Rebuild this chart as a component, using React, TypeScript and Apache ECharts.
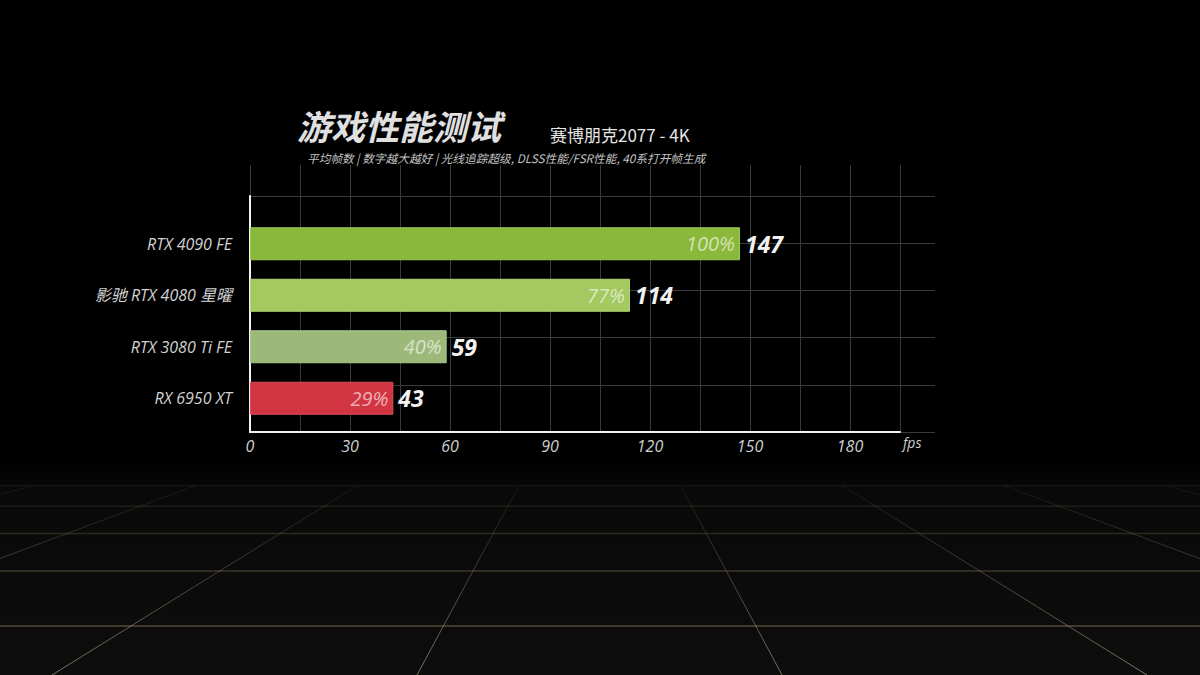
import React, { useEffect, useRef } from 'react';
import * as echarts from 'echarts';

// ---- data ----
const categories = ['RTX 4090 FE', '影驰 RTX 4080 星曜', 'RTX 3080 Ti FE', 'RX 6950 XT'];
const fpsValues = [147, 114, 59, 43];
const percentValues = [100, 77, 40, 29];
const xMax = 195;
const titleText = '游戏性能测试';
const gameText = '赛博朋克2077 - 4K';
const noteText = '平均帧数 | 数字越大越好 | 光线追踪超级, DLSS性能/FSR性能, 40系打开帧生成';

// ---- styles ----
const barColors = ['#89b83b', '#a3c960', '#9cb97a', '#d13542'];
const barBorders = ['#9cc853', '#b3d574', '#aac78b', '#dc4f5a'];
const LATIN = '"Open Sans", "Noto Sans", "Noto Sans CJK SC", sans-serif';
const CJK = '"Noto Sans CJK SC", "Noto Sans", sans-serif';
const GRID_LINE = '#3a3a3a';

function buildFloor(): any[] {
  const vpX = 600;
  const vpY = 335;
  const bottom = 675;
  const els: any[] = [];
  els.push({
    type: 'rect',
    z: -10,
    silent: true,
    shape: { x: 0, y: 460, width: 1200, height: 215 },
    style: {
      fill: {
        type: 'linear', x: 0, y: 0, x2: 0, y2: 1,
        colorStops: [
          { offset: 0, color: 'rgba(10,10,10,0)' },
          { offset: 0.15, color: 'rgba(9,9,9,1)' },
          { offset: 1, color: '#0d0d0d' },
        ],
      },
    },
  });
  // horizontal floor lines in perspective
  const alphas = [0.45, 0.32, 0.22, 0.15, 0.1];
  let topY = 0;
  for (let k = 0; k < alphas.length; k++) {
    const y = 1 / (1 / 291 + 0.0008 * k) + vpY;
    topY = y;
    els.push({
      type: 'line',
      z: -9,
      silent: true,
      shape: { x1: 0, y1: y, x2: 1200, y2: y },
      style: { stroke: `rgba(170,150,105,${alphas[k]})`, lineWidth: 1.5 },
    });
  }
  // converging lines
  for (let k = -4; k <= 5; k++) {
    const xb = 52 + 365 * k;
    const xAt = (y: number) => vpX + (xb - vpX) * (y - vpY) / (bottom - vpY);
    els.push({
      type: 'line',
      z: -9,
      silent: true,
      shape: { x1: xAt(topY), y1: topY, x2: xAt(bottom), y2: bottom },
      style: {
        lineWidth: 1,
        stroke: {
          type: 'linear', x: 0, y: topY, x2: 0, y2: bottom, global: true,
          colorStops: [
            { offset: 0, color: 'rgba(180,160,120,0.08)' },
            { offset: 1, color: 'rgba(195,175,135,0.62)' },
          ],
        },
      },
    });
  }
  return els;
}

export default function App() {
  const ref = useRef<HTMLDivElement>(null);

  useEffect(() => {
    document.body.style.margin = '0';
    document.body.style.background = '#000';
    if (!ref.current) return;
    const chart = echarts.init(ref.current, null, { renderer: 'svg' });

    const option: any = {
      animation: false,
      backgroundColor: '#000',
      graphic: [
        ...buildFloor(),
        {
          type: 'text',
          x: 297,
          y: 125,
          style: {
            text: titleText,
            fill: '#e0e0e0',
            font: `italic bold 34px ${CJK}`,
            textVerticalAlign: 'middle',
          },
        },
        {
          type: 'text',
          x: 550,
          y: 134,
          style: {
            text: gameText,
            fill: '#e6e6e6',
            font: `normal 17px ${CJK}`,
            textVerticalAlign: 'middle',
          },
        },
        {
          type: 'text',
          x: 307,
          y: 157,
          style: {
            text: noteText,
            fill: '#c2c2c2',
            font: `italic 11.7px ${CJK}`,
            textVerticalAlign: 'middle',
          },
        },
      ],
      grid: [
        { left: 250, top: 218, width: 650, height: 206 }, // bars
        { left: 250, top: 165, width: 650, height: 267 }, // vertical split lines
        { left: 250, top: 196, width: 685, height: 236 }, // horizontal split lines
        { left: 250, top: 196, width: 650, height: 236 }, // white axes + labels
      ],
      xAxis: [
        { gridIndex: 0, type: 'value', min: 0, max: xMax, show: false },
        {
          gridIndex: 1, type: 'value', min: 0, max: xMax, interval: 15, z: 0,
          axisLine: { show: false }, axisTick: { show: false }, axisLabel: { show: false },
          splitLine: { show: true, lineStyle: { color: GRID_LINE, width: 1 } },
        },
        { gridIndex: 2, type: 'value', min: 0, max: 1, show: false },
        {
          gridIndex: 3, type: 'value', min: 0, max: xMax, interval: 30, z: 1,
          axisLine: { show: true, lineStyle: { color: '#f2f2f2', width: 2 } },
          axisTick: { show: false },
          splitLine: { show: false },
          axisLabel: {
            showMaxLabel: false,
            color: '#cfcfcf',
            fontSize: 16,
            fontStyle: 'italic',
            fontFamily: LATIN,
            margin: 6,
          },
          name: 'fps',
          nameLocation: 'end',
          nameGap: 3,
          nameTextStyle: {
            color: '#cfcfcf', fontSize: 14, fontStyle: 'italic', fontFamily: LATIN,
            verticalAlign: 'top', padding: [4, 0, 0, 0],
          },
        },
      ],
      yAxis: [
        {
          gridIndex: 0, type: 'category', data: categories, inverse: true,
          axisLine: { show: false }, axisTick: { show: false }, splitLine: { show: false },
          axisLabel: {
            color: '#d2d2d2', fontSize: 16, fontStyle: 'italic', fontFamily: LATIN, margin: 18,
          },
        },
        { gridIndex: 1, type: 'value', min: 0, max: 1, show: false },
        {
          gridIndex: 2, type: 'value', min: 0, max: 5, interval: 1, z: 0,
          axisLine: { show: false }, axisTick: { show: false }, axisLabel: { show: false },
          splitLine: { show: true, lineStyle: { color: GRID_LINE, width: 1 } },
        },
        {
          gridIndex: 3, type: 'value', min: 0, max: 1, z: 1, offset: 1,
          axisLine: { show: true, lineStyle: { color: '#f2f2f2', width: 2 } },
          axisTick: { show: false }, axisLabel: { show: false }, splitLine: { show: false },
        },
      ],
      series: [
        {
          type: 'bar',
          xAxisIndex: 0,
          yAxisIndex: 0,
          barWidth: 33,
          z: 2,
          data: fpsValues.map((v, i) => ({
            value: v,
            itemStyle: { color: barColors[i], borderColor: barBorders[i], borderWidth: 1 },
          })),
          label: {
            show: true,
            position: 'insideRight',
            distance: 5,
            formatter: (p: any) => `${percentValues[p.dataIndex]}%`,
            color: 'rgba(255,255,255,0.62)',
            fontSize: 20,
            fontStyle: 'italic',
            fontFamily: LATIN,
          },
        },
        {
          type: 'bar',
          xAxisIndex: 0,
          yAxisIndex: 0,
          barWidth: 33,
          barGap: '-100%',
          z: 3,
          data: fpsValues,
          itemStyle: { color: 'rgba(0,0,0,0)' },
          label: {
            show: true,
            position: 'right',
            distance: 5,
            formatter: (p: any) => `${p.value}`,
            color: '#f2f2f2',
            fontSize: 23,
            fontWeight: 'bold',
            fontStyle: 'italic',
            fontFamily: LATIN,
          },
        },
      ],
    };

    chart.setOption(option);
    return () => chart.dispose();
  }, []);

  return (
    <div
      ref={ref}
      style={{ position: 'absolute', left: 0, top: 0, width: 1200, height: 675, background: '#000' }}
    />
  );
}
